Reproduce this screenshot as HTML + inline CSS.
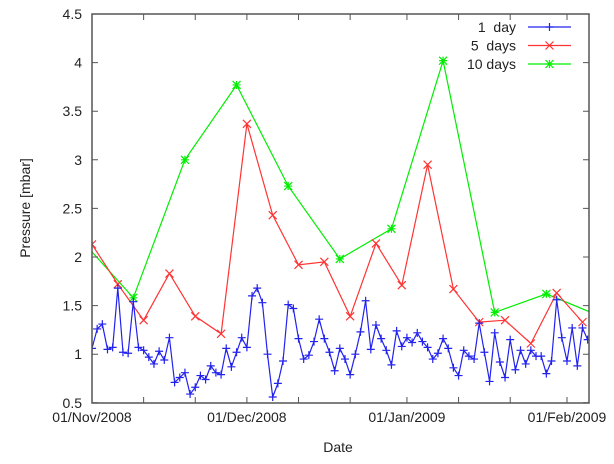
<!DOCTYPE html>
<html><head><meta charset="utf-8"><style>
html,body{margin:0;padding:0;background:#fff;}
svg{display:block;font-family:"Liberation Sans",sans-serif;}
</style></head><body>
<svg id="chart" width="614" height="464" viewBox="0 0 614 464" xmlns="http://www.w3.org/2000/svg">
<defs><clipPath id="clip"><rect x="92" y="14" width="497" height="389"/></clipPath></defs>
<g id="grid"></g>
<g id="series" clip-path="url(#clip)"></g>
<rect x="92" y="14" width="497" height="389" fill="none" stroke="#555" stroke-width="1.5"/>
<g id="axes"></g>
<text transform="translate(30,208) rotate(-90)" text-anchor="middle" font-size="14" fill="#222">Pressure [mbar]</text>
<text x="338" y="452" text-anchor="middle" font-size="14" fill="#222">Date</text>
<g id="legend"></g>
</svg>
<script>
const yTicks=[0.5,1,1.5,2,2.5,3,3.5,4,4.5];
const yTickLabels=["0.5","1","1.5","2","2.5","3","3.5","4","4.5"];
const xTickDays=[0,10,20,30,40,50,61,71,81,92];
const xLabelDays=[0,30,61,92];
const xLabels=["01/Nov/2008","01/Dec/2008","01/Jan/2009","01/Feb/2009"];
const oneDay=[1.06,1.26,1.31,1.05,1.07,1.68,1.02,1.01,1.54,1.07,1.04,0.97,0.90,1.03,0.94,1.17,0.71,0.76,0.81,0.59,0.66,0.78,0.74,0.88,0.81,0.79,1.06,0.87,1.02,1.17,1.07,1.60,1.68,1.53,1.00,0.56,0.70,0.93,1.51,1.47,1.16,0.95,0.99,1.13,1.36,1.16,1.02,0.83,1.06,0.95,0.79,1.00,1.23,1.55,1.05,1.30,1.16,1.04,0.89,1.24,1.08,1.17,1.12,1.22,1.13,1.07,0.95,1.01,1.16,1.06,0.86,0.78,1.04,0.98,0.95,1.32,1.02,0.72,1.22,0.92,0.76,1.15,0.84,1.04,0.90,1.04,0.98,0.98,0.80,0.93,1.56,1.17,0.93,1.27,0.88,1.27,1.15];
const fiveDayDays=[0,5,10,15,20,25,30,35,40,45,50,55,60,65,70,75,80,85,90,95];
const fiveDay=[2.13,1.72,1.35,1.83,1.39,1.21,3.37,2.43,1.92,1.95,1.39,2.14,1.71,2.95,1.67,1.33,1.35,1.11,1.63,1.33];
const tenDayDays=[-2,8,18,28,38,48,58,68,78,88,98];
const tenDay=[2.17,1.58,3.00,3.77,2.73,1.98,2.29,4.02,1.43,1.62,1.40];

const NS="http://www.w3.org/2000/svg";
const X=d=>92+d*5.163;
const Y=v=>402.8-(v-0.5)*97.2;
function mk(tag,attrs,parent){const e=document.createElementNS(NS,tag);for(const k in attrs)e.setAttribute(k,attrs[k]);parent.appendChild(e);return e;}
const axes=document.getElementById('axes'),ser=document.getElementById('series'),leg=document.getElementById('legend');

yTicks.forEach((v,i)=>{
  const y=Y(v);
  const t=mk('path',{d:`M92,${y}h6M589,${y}h-6`,stroke:'#555','stroke-width':1},axes);
  
  
  const l=mk('text',{x:82,y:y+5,'text-anchor':'end','font-size':14,fill:'#222'},axes);
  l.textContent=yTickLabels[i];
  
  
});
xTickDays.forEach(d=>{
  const x=X(d);
  const t=mk('path',{d:`M${x},403v-6M${x},14v6`,stroke:'#555','stroke-width':1},axes);
  
  
});
xLabelDays.forEach((d,i)=>{
  const l=mk('text',{x:X(d),y:422,'text-anchor':'middle','font-size':14,fill:'#222'},axes);
  l.textContent=xLabels[i];
  
  
});

function marker(kind,x,y,color,g){
  const s=4;let d='';
  if(kind==='plus'||kind==='star')d+=`M${x-s},${y}h${2*s}M${x},${y-s}v${2*s}`;
  if(kind==='cross'||kind==='star')d+=`M${x-s},${y-s}l${2*s},${2*s}M${x-s},${y+s}l${2*s},${-2*s}`;
  return mk('path',{d:d,stroke:color,'stroke-width':1.2,fill:'none'},g);
}
function series(days,vals,color,kind,name){
  const g=mk('g',{},ser);
  
  
  const pts=days.map((d,i)=>X(d).toFixed(1)+','+Y(vals[i]).toFixed(1)).join(' ');
  const pl=mk('polyline',{points:pts,fill:'none',stroke:color,'stroke-width':1.2},g);
  
  
  days.forEach((d,i)=>{
    const m=marker(kind,X(d),Y(vals[i]),color,g);
    
    
  });
}
series(tenDayDays,tenDay,'#00ee00','star','series-10-days');
series(fiveDayDays,fiveDay,'#ff3333','cross','series-5-days');
series(oneDay.map((v,i)=>i),oneDay,'#2222ee','plus','series-1-day');

const legItems=[["1  day",'#2222ee','plus'],["5  days",'#ff3333','cross'],["10 days",'#00ee00','star']];
legItems.forEach((it,i)=>{
  const y=27+i*18.5;
  const g=mk('g',{},leg);
  
  
  const t=mk('text',{x:516,y:y+5,'text-anchor':'end','font-size':14,fill:'#222'},g);
  t.textContent=it[0];
  t.style.whiteSpace='pre';
  mk('line',{x1:528,y1:y,x2:571,y2:y,stroke:it[1],'stroke-width':1.2},g);
  marker(it[2],549.5,y,it[1],g);
});
</script>
</body></html>
